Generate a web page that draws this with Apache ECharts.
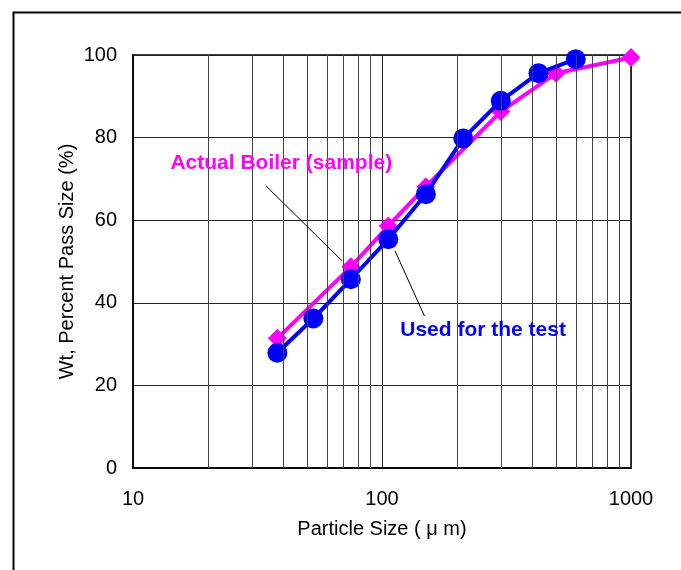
<!DOCTYPE html>
<html>
<head>
<meta charset="utf-8">
<script src="https://cdn.jsdelivr.net/npm/echarts@6/dist/echarts.min.js"></script>
<style>
  html, body { margin: 0; padding: 0; background: #fff; }
  #chart { width: 681px; height: 570px; }
</style>
</head>
<body>
<div id="chart"></div>
<script>
// Actual Boiler (sample)
const boilerSize = [38, 75, 106, 150, 300, 500, 1000]
const boilerPass = [31.4, 48.7, 58.6, 68.1, 86.3, 95.6, 99.4]
// Used for the test
const testSize = [38, 53, 75, 106, 150, 212, 300, 425, 600]
const testPass = [27.9, 36.2, 45.7, 55.4, 66.3, 79.8, 88.9, 95.6, 99.0]
// log grid lines between decades
const minorSizes = [20, 30, 40, 50, 60, 70, 80, 90, 200, 300, 400, 500, 600, 700, 800, 900]

const font = "'Liberation Sans', Arial, sans-serif"

const chart = echarts.init(document.getElementById('chart'))

const option = {
  animation: false,
  backgroundColor: '#fff',
  graphic: [{
    type: 'rect',
    left: 11, top: 10,
    shape: { width: 720, height: 620 },
    style: { fill: 'none', stroke: '#000', lineWidth: 2 }
  }],
  grid: {
    left: 133, right: 50, top: 55, bottom: 102,
    show: true, borderColor: '#000', borderWidth: 1.5, backgroundColor: 'transparent'
  },
  xAxis: {
    type: 'log', logBase: 10, min: 10, max: 1000,
    name: 'Particle Size ( μ m)',
    nameLocation: 'middle', nameGap: 51, nameMoveOverlap: false,
    nameTextStyle: { fontFamily: font, fontSize: 20, color: '#000' },
    axisLine: { lineStyle: { color: '#000', width: 1.5 } },
    axisTick: { show: false },
    axisLabel: {
      fontFamily: font, fontSize: 20, color: '#000', margin: 21,
      formatter: v => String(Math.round(v))
    },
    splitLine: { show: true, lineStyle: { color: '#222', width: 1 } }
  },
  yAxis: {
    type: 'value', min: 0, max: 100, interval: 20,
    name: 'Wt, Percent Pass Size (%)',
    nameLocation: 'middle', nameGap: 56, nameMoveOverlap: false,
    nameTextStyle: { fontFamily: font, fontSize: 20, color: '#000' },
    axisLine: { show: true, lineStyle: { color: '#000', width: 1.5 } },
    axisTick: { show: false },
    axisLabel: { fontFamily: font, fontSize: 20, color: '#000', margin: 16 },
    splitLine: { show: true, lineStyle: { color: '#222', width: 1 } }
  },
  series: [
    {
      // grid lines, leader lines and notes
      type: 'line', data: [], z: 1, silent: true,
      markLine: {
        silent: true, symbol: ['none', 'none'], animation: false,
        label: { show: false },
        data: minorSizes.map(v => ({ xAxis: v, lineStyle: { color: '#444', width: 1, type: 'solid' } })).concat([
          [{ coord: [34.2, 68.3] }, { coord: [69.0, 50.2] }],
          [{ coord: [112.7, 52.6] }, { coord: [148.1, 36.8] }]
        ]),
        lineStyle: { color: '#000', width: 1, type: 'solid' }
      },
      markPoint: {
        silent: true, symbol: 'rect', symbolSize: 1, animation: false,
        itemStyle: { color: 'transparent' },
        data: [
          {
            coord: [14.2, 73.6],
            label: {
              show: true, position: [0, 0], align: 'left', verticalAlign: 'middle',
              formatter: 'Actual Boiler (sample)', color: '#ff00ff',
              fontFamily: font, fontWeight: 'bold', fontSize: 21
            }
          },
          {
            coord: [118.9, 33.3],
            label: {
              show: true, position: [0, 0], align: 'left', verticalAlign: 'middle',
              formatter: 'Used for the test', color: '#0000ff',
              fontFamily: font, fontWeight: 'bold', fontSize: 21
            }
          }
        ]
      }
    },
    {
      name: 'Actual Boiler (sample)',
      type: 'line', z: 3,
      data: boilerSize.map((s, i) => [s, boilerPass[i]]),
      symbol: 'diamond', symbolSize: 19,
      lineStyle: { color: '#ff00ff', width: 4 },
      itemStyle: { color: '#ff00ff' }
    },
    {
      name: 'Used for the test',
      type: 'line', z: 4,
      data: testSize.map((s, i) => [s, testPass[i]]),
      symbol: 'circle', symbolSize: 20,
      lineStyle: { color: '#0000ff', width: 4 },
      itemStyle: { color: '#0000ff' }
    }
  ]
}

chart.setOption(option)
</script>
</body>
</html>
